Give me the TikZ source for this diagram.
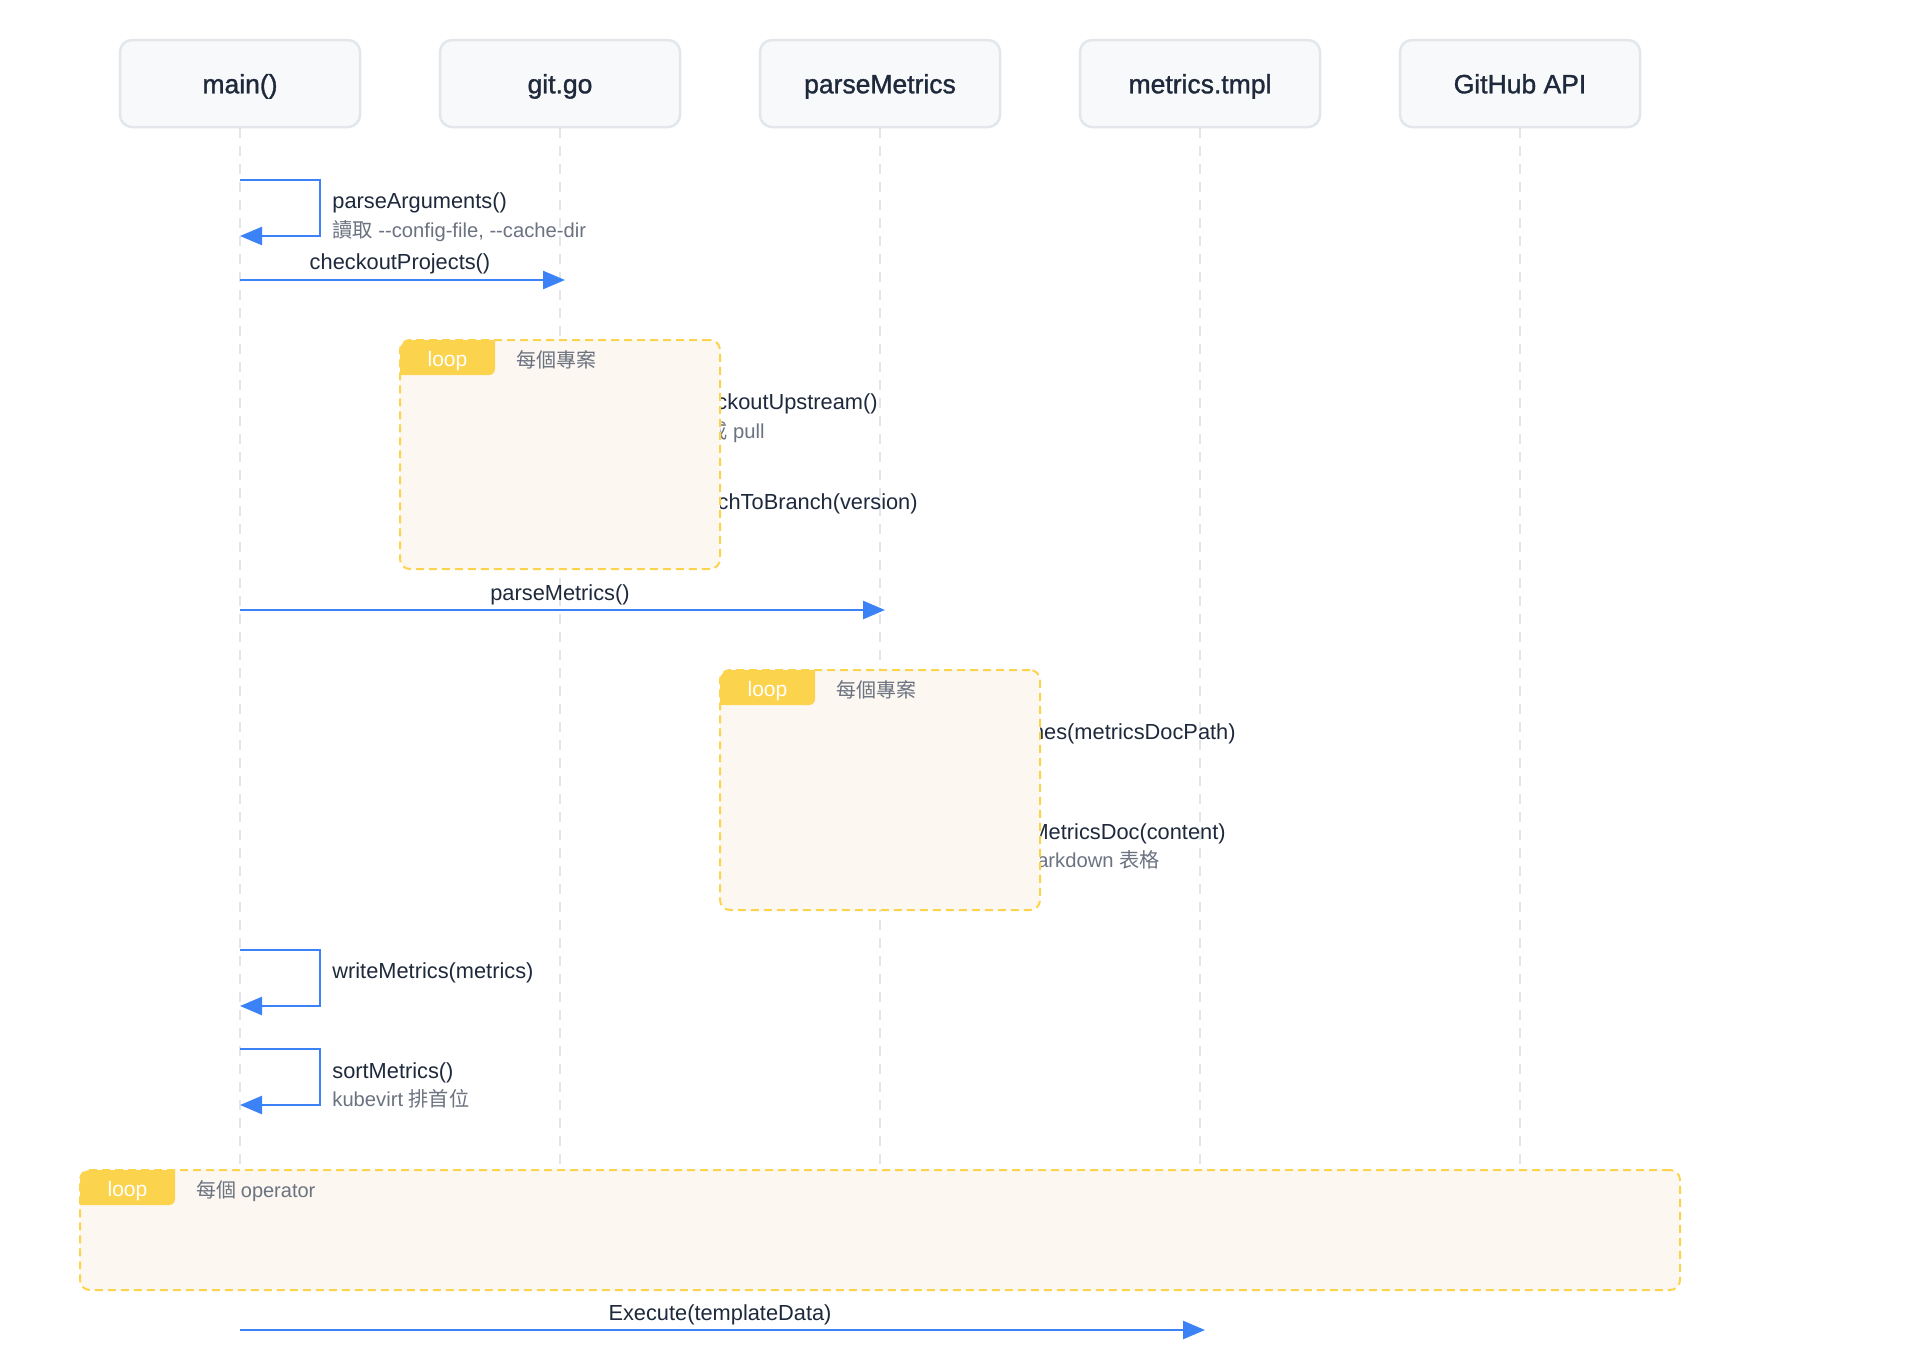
\documentclass[tikz,border=0pt]{standalone}
\usepackage{fontspec}
\setmainfont{Liberation Sans}[Ligatures=TeXOff]
\newfontfamily\cjk{Noto Sans CJK TC}
\newfontfamily\headfont[FakeBold=1.2,Ligatures=TeXOff]{Liberation Sans}
\usetikzlibrary{arrows.meta,calc}
\definecolor{ink}{HTML}{1E293B}
\definecolor{subgray}{HTML}{6B7280}
\definecolor{boxfill}{HTML}{F8F9FA}
\definecolor{boxline}{HTML}{E3E6EA}
\definecolor{lifegray}{HTML}{E3E5E9}
\definecolor{arrowblue}{HTML}{3B82F6}
\definecolor{loopfill}{HTML}{FCF8F1}
\definecolor{loopline}{HTML}{FCD34D}
\tikzset{
  participant/.style={draw=boxline, line width=1.25pt, fill=boxfill, rounded corners=6pt,
    minimum width=120pt, minimum height=43.5pt, inner sep=0pt,
    text height=0.98em, text depth=0pt,
    font=\headfont\fontsize{13.25}{15}\selectfont, text=ink},
  lifeline/.style={draw=lifegray, line width=1pt, dash pattern=on 5pt off 4pt},
  msg/.style={draw=arrowblue, line width=1.25pt, -{Triangle[length=11pt,width=9pt]}},
  lbl/.style={font=\fontsize{10.9}{13}\selectfont, text=ink, inner sep=0pt},
  sublbl/.style={font=\fontsize{10.1}{12}\selectfont, text=subgray, inner sep=0pt},
  loopbox/.style={draw=loopline, fill=loopfill, line width=1pt, dash pattern=on 4pt off 2.5pt,
    rounded corners=5pt, inner sep=0pt, outer sep=0pt, anchor=north west},
  looptagtext/.style={font=\fontsize{10.5}{12}\selectfont, text=white, inner sep=0pt, anchor=base},
  looplbl/.style={font=\cjk\fontsize{10}{12}\selectfont, text=subgray, inner sep=0pt, anchor=base west},
}
\begin{document}
\begin{tikzpicture}[x=0.5pt,y=-0.5pt]
\useasboundingbox[fill=white] (0,0) rectangle (1920,1360);

% participants
\node[participant] (main) at (240,83.5) {main()};
\node[participant] (git)  at (560,83.5) {git.go};
\node[participant] (pm)   at (880,83.5) {parseMetrics};
\node[participant] (tmpl) at (1200,83.5) {metrics.tmpl};
\node[participant] (gh)   at (1520,83.5) {GitHub API};

% lifelines
\coordinate (lifeend) at (0,1298);
\foreach \p in {main,git,pm,tmpl,gh}{
  \draw[lifeline] (\p.south) -- (\p |- lifeend);
}

% rows
\coordinate (r-pa-top) at (0,180);
\coordinate (r-pa-bot) at (0,236);
\coordinate (r-cp) at (0,280);
\coordinate (r-pm) at (0,610);
\coordinate (r-wm-top) at (0,950);
\coordinate (r-wm-bot) at (0,1006);
\coordinate (r-sm-top) at (0,1049);
\coordinate (r-sm-bot) at (0,1105);
\coordinate (r-ex) at (0,1330);

% parseArguments (self)
\draw[msg] (main |- r-pa-top) -- ++(80,0) |- (main |- r-pa-bot);
\node[lbl, anchor=base west] (l-pa) at (332,208) {parseArguments()};
\node[sublbl, anchor=base west] (s-pa) at (332,237) {{\cjk 讀取} --config-file, --cache-dir};

% checkoutProjects
\draw[msg] (main |- r-cp) -- ($(git |- r-cp)+(5,0)$);
\node[lbl, anchor=base] (l-cp) at (400,269) {checkoutProjects()};

% labels partly covered by the first loop
\node[lbl, anchor=base east] (l-cu) at (878,409) {checkoutUpstream()};
\node[sublbl, anchor=base east] (s-cu) at (765,438) {clone {\cjk 或} pull};
\node[lbl, anchor=base east] (l-sb) at (918,509) {switchToBranch(version)};

% parseMetrics
\draw[msg] (main |- r-pm) -- ($(pm |- r-pm)+(5,0)$);
\node[lbl, anchor=base] (l-pm) at (560,600) {parseMetrics()};

% labels partly covered by the second loop
\node[lbl, anchor=base east] (l-rl) at (1236,739) {readLines(metricsDocPath)};
\node[lbl, anchor=base east] (l-pd) at (1226,839) {parseMetricsDoc(content)};
\node[sublbl, anchor=base east] (s-pd) at (1160,867) {{\cjk 解析} Markdown {\cjk 表格}};

% writeMetrics (self)
\draw[msg] (main |- r-wm-top) -- ++(80,0) |- (main |- r-wm-bot);
\node[lbl, anchor=base west] (l-wm) at (332,978) {writeMetrics(metrics)};

% sortMetrics (self)
\draw[msg] (main |- r-sm-top) -- ++(80,0) |- (main |- r-sm-bot);
\node[lbl, anchor=base west] (l-sm) at (332,1078) {sortMetrics()};
\node[sublbl, anchor=base west] (s-sm) at (332,1106) {kubevirt {\cjk 排首位}};

% Execute
\draw[msg] (main |- r-ex) -- ($(tmpl |- r-ex)+(5,0)$);
\node[lbl, anchor=base] (l-ex) at (720,1320) {Execute(templateData)};

% loop 1
\node[loopbox, minimum width=160pt, minimum height=114.5pt] (loop1) at (400,340) {};
\begin{scope}
  \clip[rounded corners=5pt] (loop1.north west) rectangle (loop1.south east);
  \fill[loopline, rounded corners=3pt] (380,320) rectangle (495,375);
\end{scope}
\node[looptagtext] (t1) at (447.5,366) {loop};
\node[looplbl] (c1) at (516,367) {每個專案};

% loop 2
\node[loopbox, minimum width=160pt, minimum height=120pt] (loop2) at (720,670) {};
\begin{scope}
  \clip[rounded corners=5pt] (loop2.north west) rectangle (loop2.south east);
  \fill[loopline, rounded corners=3pt] (700,650) rectangle (815,705);
\end{scope}
\node[looptagtext] (t2) at (767.5,696) {loop};
\node[looplbl] (c2) at (836,697) {每個專案};

% loop 3
\node[loopbox, minimum width=800pt, minimum height=60pt] (loop3) at (80,1170) {};
\begin{scope}
  \clip[rounded corners=5pt] (loop3.north west) rectangle (loop3.south east);
  \fill[loopline, rounded corners=3pt] (60,1150) rectangle (175,1205);
\end{scope}
\node[looptagtext] (t3) at (127.5,1196) {loop};
\node[looplbl] (c3) at (196,1197) {每個 {\rmfamily operator}};
\end{tikzpicture}
\end{document}
